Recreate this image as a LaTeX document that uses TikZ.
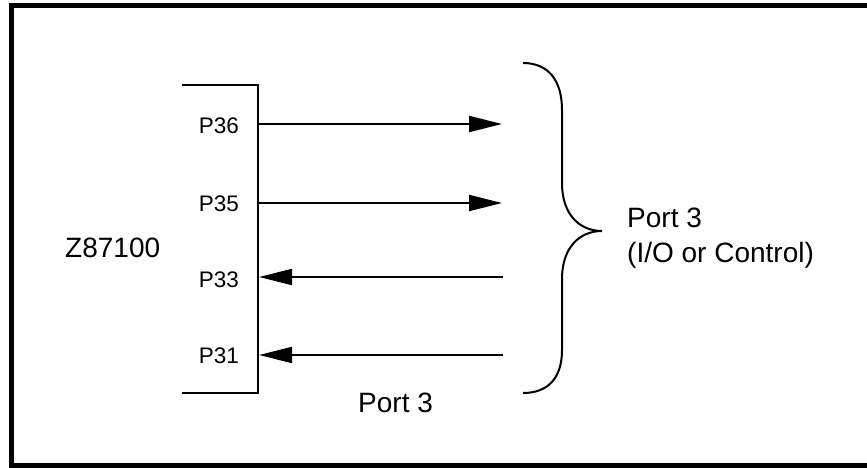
\documentclass[tikz,border=0pt]{standalone}
\usepackage{fontspec}
\setmainfont{Liberation Sans}
\usetikzlibrary{arrows.meta}
\begin{document}
\begin{tikzpicture}[x=1pt,y=-1pt,
  wire/.style={line width=2pt},
  head/.style={-{Triangle[length=33pt,width=16pt]}},
  pin/.style={anchor=base east,inner sep=0pt,font=\fontsize{22.5}{27}\selectfont},
  lbl/.style={anchor=base west,inner sep=0pt,font=\fontsize{28}{34}\selectfont}]
\useasboundingbox (0,0) rectangle (867,468);
\begin{scope}
\clip (0,0) rectangle (867,468);
\draw[line width=5.5pt] (11.5,5.75) rectangle (875,465.5);
\end{scope}
% chip outline
\coordinate (ctl) at (182,85);
\coordinate (ctr) at (258,85);
\coordinate (cbr) at (258,393);
\coordinate (cbl) at (182,393);
\draw[wire] (ctl) -- (ctr) -- (cbr) -- (cbl);
% pins
\coordinate (p36) at (258,124);
\coordinate (p35) at (258,203);
\coordinate (p33) at (259,277);
\coordinate (p31) at (259,355);
\coordinate (e36) at (502,124);
\coordinate (e35) at (502,203);
\coordinate (e33) at (503,277);
\coordinate (e31) at (503,355);
\draw[wire,head] (p36) -- (e36);
\draw[wire,head] (p35) -- (e35);
\draw[wire,head] (e33) -- (p33);
\draw[wire,head] (e31) -- (p31);
\node[pin] (l36) at (239,133) {P36};
\node[pin] (l35) at (239,211) {P35};
\node[pin] (l33) at (239,287) {P33};
\node[pin] (l31) at (239,363) {P31};
% brace
\draw[wire] (523,63) .. controls (548,63) and (562,80) .. (562,110)
  -- (562,183) .. controls (562,215) and (580,231) .. (602,231)
  .. controls (580,231) and (562,247) .. (562,279)
  -- (562,350) .. controls (562,378) and (548,393) .. (523,393);
% labels
\node[lbl] (chip) at (65,257) {Z87100};
\node[lbl] (port) at (358,412) {Port 3};
\node[lbl] (portr) at (627,227) {Port 3};
\node[lbl] (portio) at (627,262) {(I/O or Control)};
\end{tikzpicture}
\end{document}
